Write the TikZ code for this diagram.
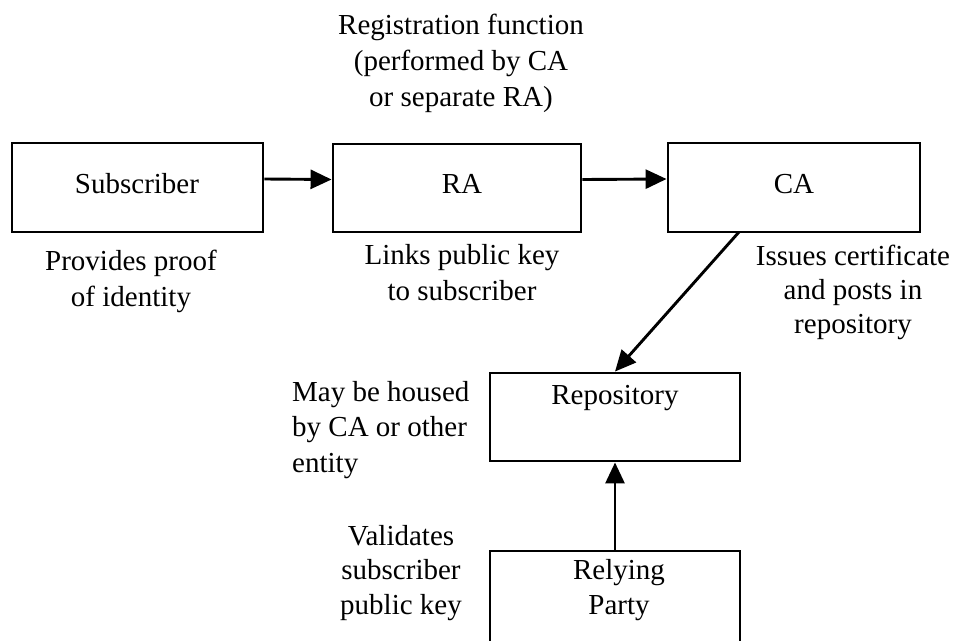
\documentclass[tikz,border=0pt]{standalone}
\usepackage{fontspec}
\setmainfont{Liberation Serif}
\usetikzlibrary{arrows.meta}
\begin{document}
\begin{tikzpicture}[x=1pt,y=-1pt,
  box/.style={draw, line width=2.9pt, rectangle, inner sep=0pt},
  lbl/.style={font=\fontsize{29}{35.5}\selectfont, inner sep=0pt, align=center, anchor=base},
  arr/.style={line width=2.9pt, -{Triangle[length=21pt,width=19pt]}}]
\useasboundingbox (0,0) rectangle (957,640);
\clip (0,0) rectangle (957,640);
% boxes
\node[box, minimum width=251pt, minimum height=89pt] (sub) at (137.5,187.5) {};
\node[box, minimum width=248pt, minimum height=88pt] (ra) at (457,188) {};
\node[box, minimum width=252pt, minimum height=89pt] (ca) at (794,187.5) {};
\node[box, minimum width=250pt, minimum height=88pt] (repo) at (615,417) {};
\node[box, minimum width=250pt, minimum height=116pt] (rely) at (615,609) {};
% box texts (anchor base = baseline of last line)
\node[lbl] (subt) at (137,193) {Subscriber};
\node[lbl] (rat) at (462,193) {RA};
\node[lbl] (cat) at (794,193) {CA};
\node[lbl] (repot) at (615,404) {Repository};
\node[lbl, font=\fontsize{29}{35}\selectfont] (relyt) at (619,614) {Relying\\Party};
% annotations
\node[lbl, font=\fontsize{29}{36}\selectfont] (reg) at (461,106) {Registration function\\(performed by CA\\or separate RA)};
\node[lbl] (prov) at (131,306) {Provides proof\\of identity};
\node[lbl] (links) at (462,300) {Links public key\\to subscriber};
\node[lbl, font=\fontsize{29}{34}\selectfont] (issues) at (853,333) {Issues certificate\\and posts in\\repository};
\node[lbl, align=left, anchor=base west] (may) at (292,472) {May be housed\\by CA or other\\entity};
\node[lbl, font=\fontsize{29}{34.5}\selectfont] (val) at (401,614) {Validates\\subscriber\\public key};
% connectors
\coordinate (caout) at (739,232);
\draw[arr] ([yshift=8.5pt]sub.east) -- ([yshift=8.5pt]ra.west);
\draw[arr] ([yshift=8.5pt]ra.east) -- ([yshift=8.5pt]ca.west);
\draw[arr] (caout) -- (repo.north);
\draw[arr] (rely.north) -- (repo.south);
\end{tikzpicture}
\end{document}
